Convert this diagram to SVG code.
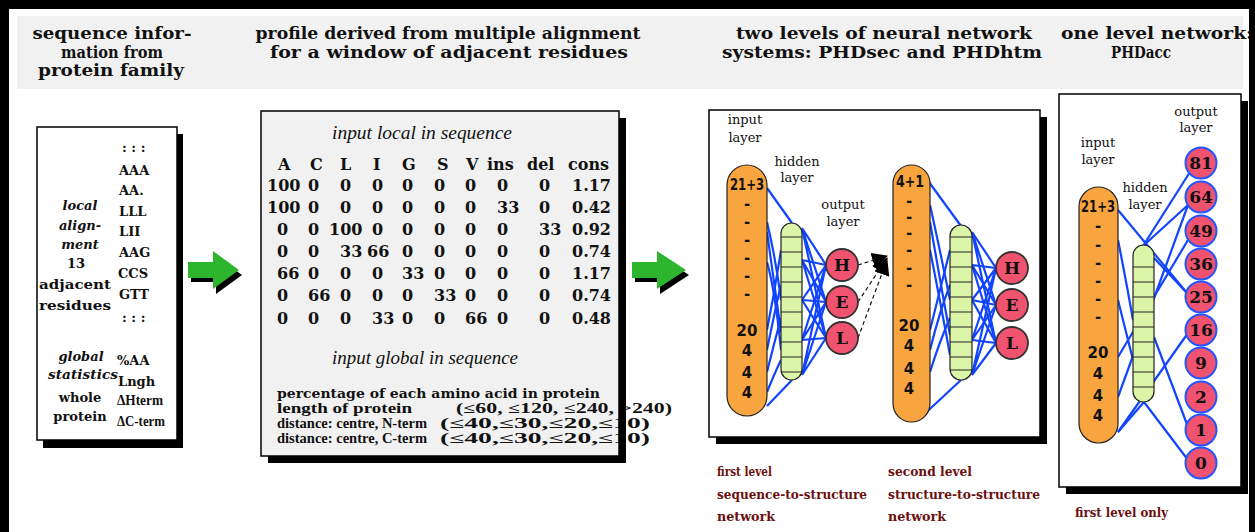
<svg xmlns="http://www.w3.org/2000/svg" width="1255" height="532" viewBox="0 0 1255 532">
<style>
.hd{font-family:"DejaVu Serif","Liberation Serif",serif;font-weight:bold;font-size:17px;fill:#111;text-anchor:middle}
.bx{fill:#fff;stroke:#000;stroke-width:1.5}
.sh{fill:#000}
.b{font-family:"DejaVu Serif","Liberation Serif",serif;font-weight:bold;fill:#111}
.ls{font-family:"Liberation Serif","DejaVu Serif",serif;font-weight:bold;font-size:14px;fill:#111}
.bi{font-family:"DejaVu Serif","Liberation Serif",serif;font-weight:bold;font-style:italic;fill:#111}
.it{font-family:"Liberation Serif","DejaVu Serif",serif;font-style:italic;font-size:18px;fill:#111;text-anchor:middle}
.mx{font-family:"DejaVu Serif","Liberation Serif",serif;font-weight:bold;font-size:16px;fill:#111}
.lb{font-family:"DejaVu Serif","Liberation Serif",serif;font-size:13px;fill:#111;text-anchor:middle}
.pl{font-family:"DejaVu Sans","Liberation Sans",sans-serif;font-weight:bold;font-size:15px;fill:#111;text-anchor:middle}
.in{fill:#F8A540;stroke:#222;stroke-width:1.2}
.hid{fill:#DBF5A8;stroke:#222;stroke-width:1.2}
.cell{stroke:#222;stroke-width:1.2}
.out{fill:#F0536F;stroke:#333;stroke-width:1.8}
.out2{fill:#F0536F;stroke:#2255FF;stroke-width:2}
.ol{font-family:"DejaVu Serif","Liberation Serif",serif;font-weight:bold;font-size:17px;fill:#111;text-anchor:middle}
.w{stroke:#1144FF;stroke-width:2.2;fill:none}
.dash{stroke:#111;stroke-width:1.2;stroke-dasharray:4 3;fill:none}
.red{font-family:"DejaVu Serif","Liberation Serif",serif;font-weight:bold;font-size:13px;fill:#6B1010}
.arr{fill:#2DB52D}
</style>
<defs>
<marker id="ah" markerWidth="16" markerHeight="16" refX="15" refY="8" orient="auto" markerUnits="userSpaceOnUse" viewBox="0 0 16 16">
<path d="M0,0 L16,8 L0,16 z" fill="#000"/>
</marker>
</defs>
<rect x="0" y="0" width="1255" height="532" fill="#fff"/>
<rect x="17" y="16" width="1226" height="73" fill="#f1f1f1"/>
<g id="headers">
<text class="hd" x="112" y="39" textLength="159" lengthAdjust="spacingAndGlyphs">sequence infor-</text>
<text class="hd" x="112" y="58" textLength="102" lengthAdjust="spacingAndGlyphs">mation from</text>
<text class="hd" x="111" y="76" textLength="146" lengthAdjust="spacingAndGlyphs">protein family</text>
<text class="hd" x="448" y="39" textLength="385" lengthAdjust="spacingAndGlyphs">profile derived from multiple alignment</text>
<text class="hd" x="449" y="58" textLength="358" lengthAdjust="spacingAndGlyphs">for a window of adjacent residues</text>
<text class="hd" x="884" y="39" textLength="296" lengthAdjust="spacingAndGlyphs">two levels of neural network</text>
<text class="hd" x="882" y="58" textLength="320" lengthAdjust="spacingAndGlyphs">systems: PHDsec and PHDhtm</text>
<text class="hd" x="1157" y="39" textLength="192" lengthAdjust="spacingAndGlyphs">one level network:</text>
<text class="hd" x="1141" y="58" textLength="60" lengthAdjust="spacingAndGlyphs">PHDacc</text>
</g>
<g id="sequence-box">
<rect class="sh" x="43" y="134" width="140" height="314"/>
<rect class="bx" x="37" y="127" width="140" height="313"/>
<g class="b" font-size="13">
<text x="122" y="152">: : :</text>
<text x="119" y="175">AAA</text>
<text x="119" y="195">AA.</text>
<text x="119" y="216">LLL</text>
<text x="119" y="236">LII</text>
<text x="119" y="257">AAG</text>
<text x="118" y="278">CCS</text>
<text x="119" y="299">GTT</text>
<text x="122" y="322">: : :</text>
<text x="117" y="365">%AA</text>
<text x="118" y="386">Lngh</text>
</g>
<text class="ls" x="117" y="405" textLength="46" lengthAdjust="spacingAndGlyphs">ΔHterm</text>
<text class="ls" x="117" y="426" textLength="48" lengthAdjust="spacingAndGlyphs">ΔC-term</text>
<g text-anchor="middle">
<text class="bi" font-size="13" x="80" y="210">local</text>
<text class="bi" font-size="13" x="80" y="230">align-</text>
<text class="bi" font-size="13" x="80" y="249">ment</text>
<text class="b" font-size="13" x="76" y="268">13</text>
<text class="b" font-size="13" x="75" y="289" textLength="72" lengthAdjust="spacingAndGlyphs">adjacent</text>
<text class="b" font-size="13" x="75" y="310" textLength="72" lengthAdjust="spacingAndGlyphs">residues</text>
<text class="bi" font-size="13" x="81" y="361">global</text>
<text class="bi" font-size="13" x="83" y="379" textLength="70" lengthAdjust="spacingAndGlyphs">statistics</text>
<text class="b" font-size="13" x="80" y="402">whole</text>
<text class="b" font-size="13" x="80" y="421">protein</text>
</g>
</g>
<g id="profile-box">
<rect class="sh" x="268" y="118" width="358" height="345"/>
<rect x="261" y="111" width="358" height="345" fill="#f1f1f1" stroke="#000" stroke-width="1.5"/>
<text class="it" x="422" y="139" textLength="180" lengthAdjust="spacingAndGlyphs">input local in sequence</text>
<g class="mx">
<text y="170"><tspan x="278">A</tspan><tspan x="310">C</tspan><tspan x="340">L</tspan><tspan x="373">I</tspan><tspan x="402">G</tspan><tspan x="437">S</tspan><tspan x="466">V</tspan><tspan x="487">ins</tspan><tspan x="527">del</tspan><tspan x="568">cons</tspan></text>
<text y="191"><tspan x="267">100</tspan><tspan x="308">0</tspan><tspan x="340">0</tspan><tspan x="372">0</tspan><tspan x="402">0</tspan><tspan x="434">0</tspan><tspan x="465">0</tspan><tspan x="497">0</tspan><tspan x="539">0</tspan><tspan x="572">1.17</tspan></text>
<text y="213"><tspan x="267">100</tspan><tspan x="308">0</tspan><tspan x="340">0</tspan><tspan x="372">0</tspan><tspan x="402">0</tspan><tspan x="434">0</tspan><tspan x="465">0</tspan><tspan x="497">33</tspan><tspan x="539">0</tspan><tspan x="572">0.42</tspan></text>
<text y="235"><tspan x="277">0</tspan><tspan x="308">0</tspan><tspan x="329">100</tspan><tspan x="372">0</tspan><tspan x="402">0</tspan><tspan x="434">0</tspan><tspan x="465">0</tspan><tspan x="497">0</tspan><tspan x="539">33</tspan><tspan x="572">0.92</tspan></text>
<text y="257"><tspan x="277">0</tspan><tspan x="308">0</tspan><tspan x="340">33</tspan><tspan x="367">66</tspan><tspan x="402">0</tspan><tspan x="434">0</tspan><tspan x="465">0</tspan><tspan x="497">0</tspan><tspan x="539">0</tspan><tspan x="572">0.74</tspan></text>
<text y="279"><tspan x="277">66</tspan><tspan x="308">0</tspan><tspan x="340">0</tspan><tspan x="372">0</tspan><tspan x="402">33</tspan><tspan x="434">0</tspan><tspan x="465">0</tspan><tspan x="497">0</tspan><tspan x="539">0</tspan><tspan x="572">1.17</tspan></text>
<text y="301"><tspan x="277">0</tspan><tspan x="308">66</tspan><tspan x="340">0</tspan><tspan x="372">0</tspan><tspan x="402">0</tspan><tspan x="434">33</tspan><tspan x="465">0</tspan><tspan x="497">0</tspan><tspan x="539">0</tspan><tspan x="572">0.74</tspan></text>
<text y="324"><tspan x="277">0</tspan><tspan x="308">0</tspan><tspan x="340">0</tspan><tspan x="372">33</tspan><tspan x="402">0</tspan><tspan x="434">0</tspan><tspan x="465">66</tspan><tspan x="497">0</tspan><tspan x="539">0</tspan><tspan x="572">0.48</tspan></text>
</g>
<text class="it" x="425" y="364" textLength="186" lengthAdjust="spacingAndGlyphs">input global in sequence</text>
<text class="b" font-size="13" x="277" y="398" textLength="323" lengthAdjust="spacingAndGlyphs">percentage of each amino acid in protein</text>
<g class="ls">
<text x="277" y="413" textLength="135" lengthAdjust="spacingAndGlyphs">length of protein</text>
<text x="456" y="413" textLength="216" lengthAdjust="spacingAndGlyphs">(≤60, ≤120, ≤240, &gt;240)</text>
<text x="277" y="428" textLength="150" lengthAdjust="spacingAndGlyphs">distance: centre, N-term</text>
<text x="440" y="428" textLength="210" lengthAdjust="spacingAndGlyphs">(≤40,≤30,≤20,≤10)</text>
<text x="277" y="443" textLength="150" lengthAdjust="spacingAndGlyphs">distance: centre, C-term</text>
<text x="440" y="443" textLength="210" lengthAdjust="spacingAndGlyphs">(≤40,≤30,≤20,≤10)</text>
</g>
<rect class="sh" x="619" y="118" width="7" height="345"/>
</g>
<g id="arrow-1">
<polygon class="sh" points="191,267 216,267 216,256 242,275 216,294 216,282 191,282"/>
<polygon class="arr" points="188,262 213,262 213,251 239,270 213,289 213,278 188,278"/>
</g>
<g id="arrow-2">
<polygon class="sh" points="635,267 660,267 660,256 689,275 660,294 660,282 635,282"/>
<polygon class="arr" points="632,262 657,262 657,251 686,270 657,289 657,278 632,278"/>
</g>
<g id="network-box">
<rect class="sh" x="716" y="117" width="331" height="327"/>
<rect class="bx" x="709" y="110" width="331" height="327"/>
</g>
<g id="accessibility-box">
<rect class="sh" x="1066" y="101" width="182" height="393"/>
<rect class="bx" x="1059" y="94" width="182" height="393"/>
</g>
<g id="connectors">
<g class="w">
<path d="M767,188 L792,223"/>
<path d="M767,222 Q776,260 781,300"/>
<path d="M767,232 Q775,290 781,332"/>
<path d="M767,262 Q775,290 781,350"/>
<path d="M767,330 Q775,290 781,250"/>
<path d="M767,350 Q775,310 781,285"/>
<path d="M767,372 Q775,340 781,318"/>
<path d="M767,392 Q776,370 781,360"/>
<path d="M767,406 L792,380"/>
<path d="M802,228 L826,265 M802,228 L826,302 M802,228 L826,338"/>
<path d="M802,260 L826,265 M802,260 L826,302 M802,260 L826,338"/>
<path d="M802,300 L826,265 M802,300 L826,302 M802,300 L826,338"/>
<path d="M802,340 L826,265 M802,340 L826,302 M802,340 L826,338"/>
<path d="M802,375 L826,265 M802,375 L826,302 M802,375 L826,338"/>
<path d="M918,167 L961,226"/>
<path d="M930,205 Q940,250 950,300"/>
<path d="M930,222 Q940,280 950,335"/>
<path d="M930,250 Q940,300 950,355"/>
<path d="M930,330 Q940,290 950,250"/>
<path d="M930,350 Q940,310 950,285"/>
<path d="M930,372 Q940,340 950,318"/>
<path d="M918,420 L961,380"/>
<path d="M972,232 L996,268 M972,232 L996,305 M972,232 L996,343"/>
<path d="M972,265 L996,268 M972,265 L996,305 M972,265 L996,343"/>
<path d="M972,300 L996,268 M972,300 L996,305 M972,300 L996,343"/>
<path d="M972,340 L996,268 M972,340 L996,305 M972,340 L996,343"/>
<path d="M972,375 L996,268 M972,375 L996,305 M972,375 L996,343"/>
<path d="M1118,210 L1187,293"/>
<path d="M1143,246 L1190,172"/>
<path d="M1143,246 L1188,205"/>
<path d="M1118,240 Q1126,280 1133,320"/>
<path d="M1154,258 L1187,293"/>
<path d="M1118,397 L1188,205"/>
<path d="M1118,357 L1188,240"/>
<path d="M1118,432 L1144,402"/>
<path d="M1144,402 L1188,460"/>
<path d="M1154,337 L1188,427"/>
<path d="M1118,432 L1188,333"/>
<path d="M1118,300 Q1128,340 1133,360"/>
</g>
<path class="dash" d="M858,265 L887,256" marker-end="url(#ah)"/>
<path class="dash" d="M858,302 L887,258" marker-end="url(#ah)"/>
<path class="dash" d="M858,338 L887,260" marker-end="url(#ah)"/>
</g>
<g id="net1-input">
<text class="lb" x="745" y="124">input</text>
<text class="lb" x="745" y="142">layer</text>
<rect class="in" x="727" y="165" width="40" height="251" rx="20"/>
<text class="pl" x="747" y="190" textLength="34" lengthAdjust="spacingAndGlyphs">21+3</text>
<g class="pl"><text x="747" y="209">-</text><text x="747" y="227">-</text><text x="747" y="245">-</text><text x="747" y="263">-</text><text x="747" y="281">-</text><text x="747" y="299">-</text>
<text x="747" y="336">20</text><text x="747" y="356">4</text><text x="747" y="378">4</text><text x="747" y="398">4</text></g>
</g>
<g id="net1-hidden">
<text class="lb" x="797" y="166">hidden</text>
<text class="lb" x="797" y="182">layer</text>
<rect class="hid" x="781" y="223" width="21" height="157" rx="10.5"/>
<path class="cell" d="M781,237h21M781,252h21M781,267h21M781,282h21M781,297h21M781,312h21M781,327h21M781,342h21M781,357h21M781,372h21"/>
</g>
<g id="net1-output">
<text class="lb" x="843" y="209">output</text>
<text class="lb" x="843" y="226">layer</text>
<circle class="out" cx="842" cy="265" r="16"/><text class="ol" x="842" y="271">H</text>
<circle class="out" cx="842" cy="302" r="16"/><text class="ol" x="842" y="308">E</text>
<circle class="out" cx="842" cy="338" r="16"/><text class="ol" x="842" y="344">L</text>
</g>
<g id="net2-input">
<rect class="in" x="893" y="165" width="37" height="257" rx="18.5"/>
<text class="pl" x="910" y="187" textLength="28" lengthAdjust="spacingAndGlyphs">4+1</text>
<g class="pl"><text x="909" y="206">-</text><text x="909" y="222">-</text><text x="909" y="238">-</text><text x="909" y="255">-</text><text x="909" y="273">-</text><text x="909" y="290">-</text>
<text x="909" y="331">20</text><text x="909" y="351">4</text><text x="909" y="374">4</text><text x="909" y="394">4</text></g>
</g>
<g id="net2-hidden">
<rect class="hid" x="950" y="225" width="22" height="155" rx="11"/>
<path class="cell" d="M950,237h22M950,252h22M950,267h22M950,282h22M950,297h22M950,312h22M950,327h22M950,342h22M950,357h22M950,370h22"/>
</g>
<g id="net2-output">
<circle class="out" cx="1012" cy="268" r="16"/><text class="ol" x="1012" y="274">H</text>
<circle class="out" cx="1012" cy="305" r="16"/><text class="ol" x="1012" y="311">E</text>
<circle class="out" cx="1012" cy="343" r="16"/><text class="ol" x="1012" y="349">L</text>
</g>
<g id="net3-input">
<text class="lb" x="1098" y="147">input</text>
<text class="lb" x="1098" y="164">layer</text>
<rect class="in" x="1079" y="187" width="39" height="256" rx="19.5"/>
<text class="pl" x="1098" y="212" textLength="34" lengthAdjust="spacingAndGlyphs">21+3</text>
<g class="pl"><text x="1098" y="231">-</text><text x="1098" y="250">-</text><text x="1098" y="268">-</text><text x="1098" y="286">-</text><text x="1098" y="304">-</text><text x="1098" y="322">-</text>
<text x="1098" y="358">20</text><text x="1098" y="379">4</text><text x="1098" y="401">4</text><text x="1098" y="421">4</text></g>
</g>
<g id="net3-hidden">
<text class="lb" x="1145" y="192">hidden</text>
<text class="lb" x="1145" y="209">layer</text>
<rect class="hid" x="1133" y="245" width="21" height="157" rx="10.5"/>
<path class="cell" d="M1133,267h21M1133,282h21M1133,297h21M1133,312h21M1133,327h21M1133,342h21M1133,357h21M1133,372h21M1133,387h21"/>
</g>
<g id="net3-output">
<text class="lb" x="1196" y="116">output</text>
<text class="lb" x="1196" y="132">layer</text>
<circle class="out2" cx="1201" cy="163" r="15.5"/><text class="ol" x="1201" y="169">81</text>
<circle class="out2" cx="1201" cy="197" r="15.5"/><text class="ol" x="1201" y="203">64</text>
<circle class="out2" cx="1201" cy="231" r="15.5"/><text class="ol" x="1201" y="237">49</text>
<circle class="out2" cx="1201" cy="264" r="15.5"/><text class="ol" x="1201" y="270">36</text>
<circle class="out2" cx="1201" cy="297" r="15.5"/><text class="ol" x="1201" y="303">25</text>
<circle class="out2" cx="1201" cy="330" r="15.5"/><text class="ol" x="1201" y="336">16</text>
<circle class="out2" cx="1201" cy="363" r="15.5"/><text class="ol" x="1201" y="369">9</text>
<circle class="out2" cx="1201" cy="397" r="15.5"/><text class="ol" x="1201" y="403">2</text>
<circle class="out2" cx="1201" cy="430" r="15.5"/><text class="ol" x="1201" y="436">1</text>
<circle class="out2" cx="1201" cy="463" r="15.5"/><text class="ol" x="1201" y="469">0</text>
</g>
<g id="captions">
<text class="red" x="717" y="476" textLength="55" lengthAdjust="spacingAndGlyphs">first level</text>
<text class="red" x="717" y="499" textLength="150" lengthAdjust="spacingAndGlyphs">sequence-to-structure</text>
<text class="red" x="717" y="521" textLength="58" lengthAdjust="spacingAndGlyphs">network</text>
<text class="red" x="888" y="476" textLength="84" lengthAdjust="spacingAndGlyphs">second level</text>
<text class="red" x="888" y="499" textLength="152" lengthAdjust="spacingAndGlyphs">structure-to-structure</text>
<text class="red" x="888" y="521" textLength="58" lengthAdjust="spacingAndGlyphs">network</text>
<text class="red" x="1075" y="517" textLength="93" lengthAdjust="spacingAndGlyphs">first level only</text>
</g>
<g id="frame">
<rect x="0" y="0" width="1255" height="9" fill="#000"/>
<rect x="0" y="0" width="9" height="532" fill="#000"/>
<rect x="1249" y="0" width="6" height="532" fill="#000"/>
</g>
</svg>
